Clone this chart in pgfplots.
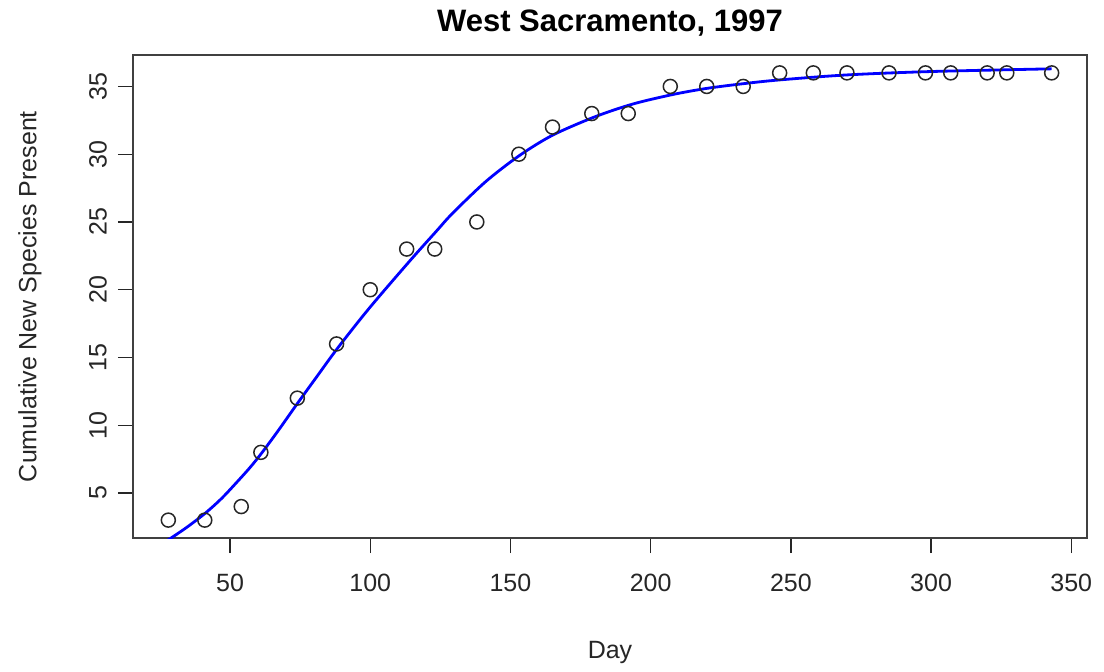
\documentclass[border=0pt]{standalone}
\usepackage{pgfplots}
\pgfplotsset{compat=1.18}
\usepackage{fontspec}
\setmainfont{Liberation Sans}

\begin{document}
\begin{tikzpicture}
% overall page frame around the plotting box (box spans 477pt x 241.5pt)
\useasboundingbox (-66.5pt,-66.5pt) rectangle (485.5pt,269pt);
\begin{axis}[
  at={(0,0)}, anchor=south west,
  scale only axis,
  width=477pt, height=241.5pt,
  xmin=15.4, xmax=355.6,
  ymin=1.68, ymax=37.32,
  xtick={50,100,...,350},
  ytick={5,10,...,35},
  tick align=outside,
  major tick length=7.5pt,
  tick style={black!85, line width=0.7pt},
  axis line style={black!75, line width=0.8pt},
  xtick pos=bottom, ytick pos=left,
  /pgf/number format/assume math mode=true,
  tick label style={font=\fontsize{12.5}{14}\selectfont, text=black!85},
  xticklabel style={anchor=center, yshift=-15pt},
  yticklabel style={anchor=center, rotate=90, yshift=10pt},
  title={West Sacramento, 1997},
  title style={font=\fontsize{15.5}{18}\selectfont\bfseries, at={(axis description cs:0.5,1)}, anchor=center, yshift=10pt},
  xlabel={Day},
  ylabel={Cumulative New Species Present},
  label style={font=\fontsize{12.5}{14}\selectfont, text=black!85},
  xlabel style={at={(axis description cs:0.5,0)}, anchor=center, yshift=-57pt},
  ylabel style={at={(axis description cs:0,0.5)}, anchor=center, yshift=51.5pt},
  clip=true,
]
% fitted growth curve
\addplot[blue, line width=1.4pt, smooth] coordinates {
  (27,1.43) (29.5,1.75) (35,2.53) (41.4,3.55) (47,4.6) (52,5.7) (57,6.85)
  (61.1,7.9) (67,9.55) (74,11.6) (81,13.6) (88.4,15.7) (99.7,18.65)
  (114,22.1) (123.5,24.3) (129.4,25.65) (141.3,28.0) (153.2,29.9)
  (165,31.4) (180,32.75) (193.6,33.7) (207.8,34.4) (219.8,34.85)
  (232.9,35.2) (245.9,35.48) (270,35.85) (300,36.1) (343,36.3)
};
% observed cumulative counts
\addplot[only marks, mark=o, mark size=3.5pt, black!85, mark options={line width=0.75pt}] coordinates {
  (28,3) (41,3) (54,4) (61,8) (74,12) (88,16) (100,20) (113,23) (123,23)
  (138,25) (153,30) (165,32) (179,33) (192,33) (207,35) (220,35) (233,35)
  (246,36) (258,36) (270,36) (285,36) (298,36) (307,36) (320,36) (327,36)
  (343,36)
};
\end{axis}
\end{tikzpicture}
\end{document}
